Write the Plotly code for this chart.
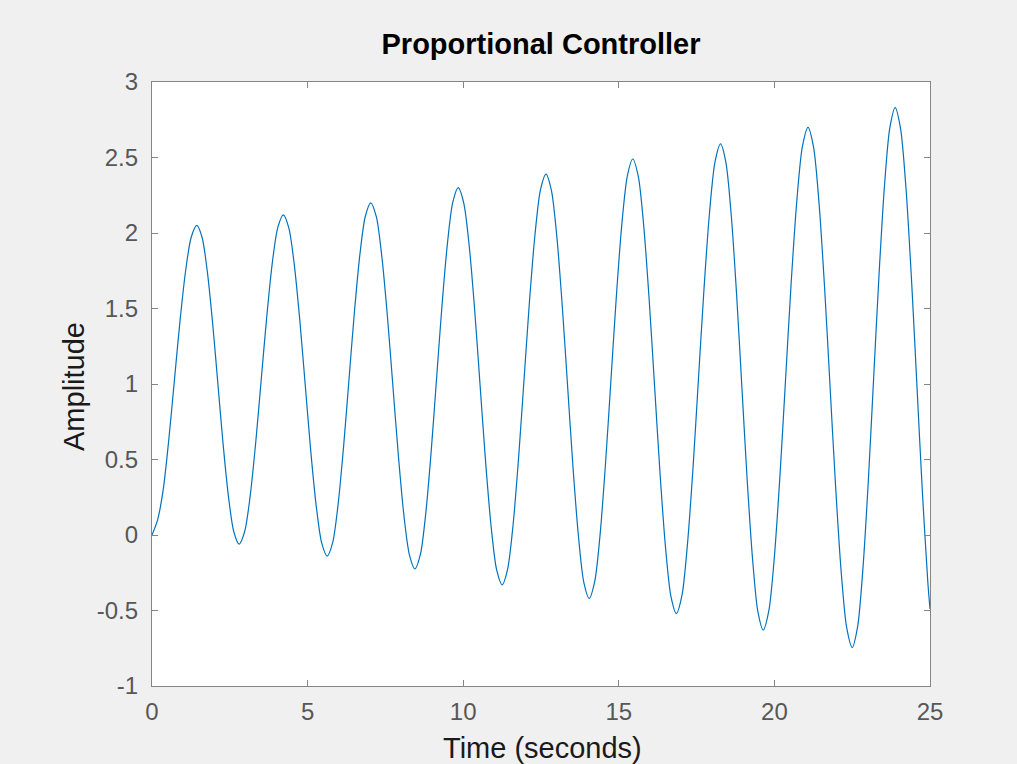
import plotly.graph_objects as go

# Points (time in seconds, amplitude)
time_s = [0.00, 0.18, 0.36, 0.54, 0.72, 0.90, 1.08, 1.26,
          1.44, 1.61, 1.78, 1.95, 2.12, 2.29, 2.46, 2.63,
          2.80, 2.978, 3.155, 3.333, 3.51, 3.688, 3.865, 4.043,
          4.22, 4.396, 4.573, 4.749, 4.925, 5.101, 5.278, 5.454,
          5.63, 5.805, 5.98, 6.155, 6.33, 6.505, 6.68, 6.855,
          7.03, 7.208, 7.385, 7.563, 7.74, 7.918, 8.095, 8.273,
          8.45, 8.624, 8.798, 8.971, 9.145, 9.319, 9.493, 9.666,
          9.84, 10.016, 10.193, 10.369, 10.545, 10.721, 10.898, 11.074,
          11.25, 11.426, 11.603, 11.779, 11.955, 12.131, 12.308, 12.484,
          12.66, 12.834, 13.008, 13.181, 13.355, 13.529, 13.703, 13.876,
          14.05, 14.225, 14.40, 14.575, 14.75, 14.925, 15.10, 15.275,
          15.45, 15.625, 15.80, 15.975, 16.15, 16.325, 16.50, 16.675,
          16.85, 17.028, 17.205, 17.383, 17.56, 17.738, 17.915, 18.093,
          18.27, 18.441, 18.613, 18.784, 18.955, 19.126, 19.298, 19.469,
          19.64, 19.82, 20.00, 20.18, 20.36, 20.54, 20.72, 20.90,
          21.08, 21.258, 21.435, 21.613, 21.79, 21.968, 22.145, 22.323,
          22.50, 22.673, 22.845, 23.018, 23.19, 23.363, 23.535, 23.708,
          23.88, 24.055, 24.23, 24.405, 24.58, 24.755, 24.93, 25.00]
amplitude = [0.00, 0.10, 0.30, 0.632, 1.025, 1.418, 1.750, 1.972,
             2.05, 1.970, 1.741, 1.399, 0.995, 0.591, 0.249, 0.020,
             -0.06, 0.023, 0.259, 0.613, 1.03, 1.447, 1.801, 2.037,
             2.12, 2.034, 1.789, 1.423, 0.99, 0.557, 0.191, -0.054,
             -0.14, -0.051, 0.203, 0.582, 1.03, 1.478, 1.857, 2.111,
             2.20, 2.108, 1.845, 1.452, 0.988, 0.523, 0.130, -0.133,
             -0.225, -0.129, 0.145, 0.554, 1.038, 1.521, 1.930, 2.204,
             2.30, 2.200, 1.915, 1.489, 0.985, 0.481, 0.055, -0.230,
             -0.33, -0.227, 0.068, 0.509, 1.03, 1.551, 1.992, 2.287,
             2.39, 2.283, 1.978, 1.523, 0.985, 0.447, -0.008, -0.313,
             -0.42, -0.309, 0.006, 0.478, 1.035, 1.592, 2.064, 2.379,
             2.49, 2.376, 2.049, 1.561, 0.985, 0.409, -0.079, -0.406,
             -0.52, -0.402, -0.064, 0.439, 1.035, 1.631, 2.134, 2.472,
             2.59, 2.468, 2.118, 1.597, 0.98, 0.363, -0.158, -0.508,
             -0.63, -0.503, -0.142, 0.397, 1.035, 1.673, 2.212, 2.573,
             2.70, 2.569, 2.196, 1.637, 0.978, 0.318, -0.241, -0.614,
             -0.745, -0.609, -0.221, 0.358, 1.043, 1.727, 2.306, 2.694,
             2.83, 2.690, 2.291, 1.695, 0.99, 0.285, -0.311, -0.49]

x_ticks = [0, 5, 10, 15, 20, 25]
y_ticks = [-1, -0.5, 0, 0.5, 1, 1.5, 2, 2.5, 3]
y_tick_labels = ["-1", "-0.5", "0", "0.5", "1", "1.5", "2", "2.5", "3"]

title_text = "Proportional Controller"
x_label = "Time (seconds)"
y_label = "Amplitude"

FONT = "Liberation Sans, Arial, Helvetica, sans-serif"
W, H = 1017, 764
ML, MR, MT, MB = 152, 87, 82, 78
PW, PH = W - ML - MR, H - MT - MB

fig = go.Figure()
fig.add_trace(go.Scatter(
    x=time_s, y=amplitude, mode="lines",
    line=dict(color="#0072BD", width=1.2, shape="spline", smoothing=0.8),
    showlegend=False, hoverinfo="x+y"))

fig.update_layout(
    width=W, height=H, autosize=False,
    paper_bgcolor="#f0f0f0", plot_bgcolor="#ffffff",
    margin=dict(l=ML, r=MR, t=MT, b=MB, pad=0),
    title=dict(text="<b>" + title_text + "</b>", x=(ML + PW / 2) / W,
               xanchor="center", xref="container",
               y=1 - 44 / H, yanchor="middle", yref="container",
               font=dict(family=FONT, size=29, color="#000000")),
    font=dict(family=FONT),
)

axis_common = dict(
    showgrid=False, zeroline=False, showline=True, linecolor="#858585",
    linewidth=1.3, mirror="ticks", ticks="inside", ticklen=6,
    tickcolor="#858585", tickwidth=1.2,
    tickfont=dict(family=FONT, size=24, color="#575757"),
)

fig.update_xaxes(range=[0, 25], tickvals=x_ticks,
                 ticktext=[str(v) for v in x_ticks],
                 ticklabelstandoff=4, **axis_common)
fig.update_yaxes(range=[-1, 3], tickvals=y_ticks, ticktext=y_tick_labels,
                 ticklabelstandoff=8, **axis_common)

# Axis titles
fig.add_annotation(text=x_label, xref="paper", yref="paper",
                   x=(542 - ML) / PW, y=-(748 - (MT + PH)) / PH,
                   xanchor="center", yanchor="middle", showarrow=False,
                   font=dict(family=FONT, size=29, color="#1a1a1a"))
fig.add_annotation(text=y_label, xref="paper", yref="paper",
                   x=(74 - ML) / PW, y=((MT + PH) - 387) / PH,
                   xanchor="center", yanchor="middle", showarrow=False,
                   textangle=-90,
                   font=dict(family=FONT, size=29, color="#1a1a1a"))

fig.write_html(
    "out.html",
    config={"displayModeBar": False},
    post_script="document.body.style.margin='0';"
                "document.body.style.background='#f0f0f0';")
